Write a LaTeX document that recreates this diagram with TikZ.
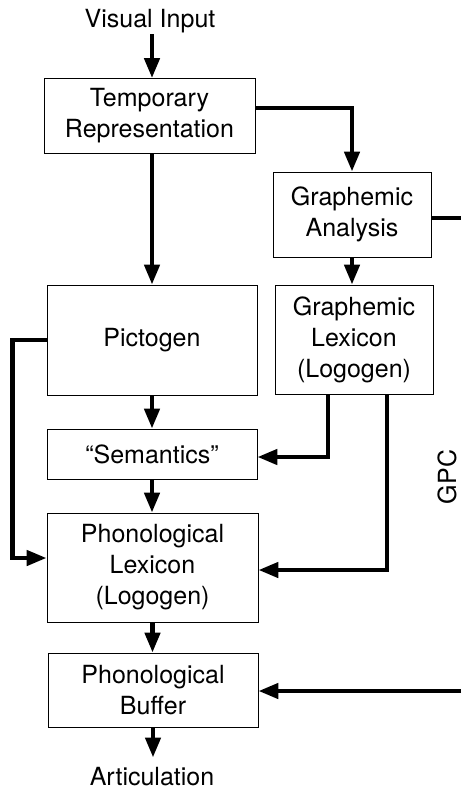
\documentclass[tikz,border=0pt]{standalone}
\usepackage{fontspec}
\setmainfont{TeX Gyre Heros}
\usetikzlibrary{arrows.meta,calc}
\tikzset{
  txt/.style={font=\fontsize{25}{31}\selectfont},
  unit/.style={txt, draw, line width=0.8pt, align=center, inner sep=0pt},
  plaintext/.style={txt, inner sep=0pt, align=center},
  wire/.style={line width=4.5pt},
  flow/.style={wire, -{Triangle[length=20pt,width=15pt]}},
}
\begin{document}
\begin{tikzpicture}[x=1pt,y=-1pt]
  \useasboundingbox (0,0) rectangle (461,792);

  % processing units
  \node[unit, minimum width=211pt, minimum height=75pt]  (tr)  at (149.5,116) {Temporary\\Representation};
  \node[unit, minimum width=158pt, minimum height=85pt]  (ga)  at (352,214.5)   {Graphemic\\Analysis};
  \node[unit, minimum width=210pt, minimum height=110pt] (pic) at (152,340)     {Pictogen};
  \node[unit, minimum width=158pt, minimum height=109pt] (gl)  at (354,339.5)   {Graphemic\\Lexicon\\(Logogen)};
  \node[unit, minimum width=210pt, minimum height=50pt]  (sem) at (152,454)     {“Semantics”};
  \node[unit, minimum width=211pt, minimum height=109pt] (pl)  at (152.5,567.5) {Phonological\\Lexicon\\(Logogen)};
  \node[unit, minimum width=210pt, minimum height=74pt]  (pb)  at (153,690)     {Phonological\\Buffer};

  % input, output and route label
  \node[plaintext] (vin) at (150,21)  {Visual Input};
  \node[plaintext] (art) at (152,777) {Articulation};
  \node[plaintext, rotate=90] (gpc) at (447,477) {GPC};

  % free ends of the GPC route
  \coordinate (gpcout) at (461,218);
  \coordinate (gpcin)  at (461,691);

  % connections
  \draw[flow, shorten <=1pt] ([xshift=2pt]vin.south) -- ([xshift=2pt]vin.south |- tr.north);
  \draw[flow] ([yshift=8pt]tr.east) -| (ga.north);
  \draw[flow] (pic.north |- tr.south) -- (pic.north);
  \draw[flow] (ga.south) -- (ga.south |- gl.north);
  \draw[wire] (ga.east |- gpcout) -- (gpcout);
  \draw[flow] (pic.south) -- (sem.north);
  \draw[flow] (pic.west) -- ++(-34,0) |- ([yshift=9.5pt]pl.west);
  \draw[flow] ([xshift=-26pt]gl.south) |- ([yshift=-3pt]sem.east);
  \draw[flow] ([xshift=33pt]gl.south) |- ([yshift=-2.5pt]pl.east);
  \draw[flow] (sem.south) -- (sem.south |- pl.north);
  \draw[flow] (pl.south) -- (pl.south |- pb.north);
  \draw[flow] (gpcin) -- (pb.east |- gpcin);
  \draw[flow, shorten >=10pt] (pb.south) -- (pb.south |- art.north);
\end{tikzpicture}
\end{document}
